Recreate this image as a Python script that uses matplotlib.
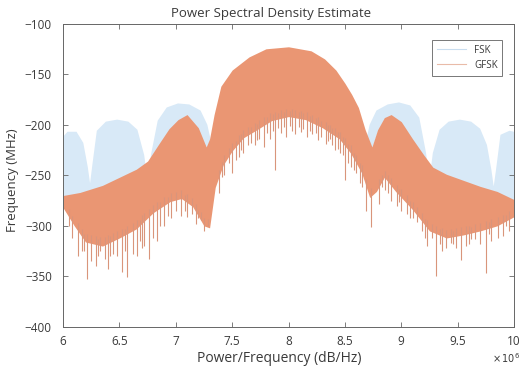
import numpy as np
import matplotlib.pyplot as plt

plt.rcParams['font.family'] = ['Open Sans', 'DejaVu Sans']

# frequency axis in units of 1e6
# GFSK upper edge of the dense trace
gfsk_x = [6.00, 6.15, 6.35, 6.50, 6.65, 6.75, 6.85, 6.94, 7.02, 7.10, 7.20, 7.27,
          7.30, 7.34, 7.40, 7.50, 7.65, 7.80, 8.00, 8.20, 8.32, 8.42, 8.50, 8.56,
          8.62, 8.68, 8.74, 8.79, 8.85, 8.91, 9.00, 9.10, 9.20, 9.28, 9.40, 9.55,
          9.70, 9.85, 10.00]
gfsk_top = [-270, -267, -260, -252, -244, -236, -219, -204, -195, -190, -203, -222,
            -214, -190, -162, -146, -133, -125, -123, -127, -135, -146, -159, -170,
            -183, -205, -222, -205, -193, -190, -197, -214, -230, -242, -249, -255,
            -261, -266, -274]
# GFSK lower edge of the dense body
gfsk_bx = [6.00, 6.10, 6.20, 6.35, 6.50, 6.65, 6.80, 6.95, 7.05, 7.15, 7.25, 7.30,
           7.35, 7.42, 7.50, 7.60, 7.72, 7.85, 8.00, 8.15, 8.30, 8.45, 8.55, 8.65,
           8.72, 8.78, 8.85, 8.95, 9.10, 9.25, 9.40, 9.55, 9.70, 9.85, 10.00]
gfsk_bot = [-282, -300, -316, -320, -312, -303, -287, -276, -273, -281, -300, -302,
            -262, -240, -226, -213, -205, -196, -192, -195, -203, -214, -228, -248,
            -272, -266, -252, -266, -284, -305, -312, -309, -305, -300, -291]
# long downward spikes (position, tip level)
spike_x = [6.05, 6.13, 6.17, 6.21, 6.25, 6.29, 6.33, 6.37, 6.40, 6.44, 6.48, 6.52,
           6.57, 6.62, 6.66, 6.70, 6.72, 6.76, 6.80, 6.83, 6.90, 6.96, 7.00, 7.05,
           7.10, 7.14, 7.18, 7.22, 7.25, 7.29, 7.38, 7.43, 7.47, 7.50, 7.56, 7.60,
           7.64, 7.70, 7.74, 7.78, 7.84, 7.88, 7.93, 7.98, 8.03, 8.06, 8.11, 8.16,
           8.21, 8.26, 8.33, 8.37, 8.41, 8.46, 8.50, 8.55, 8.60, 8.65, 8.69, 8.73,
           8.80, 8.86, 8.91, 8.96, 9.00, 9.05, 9.10, 9.14, 9.18, 9.23, 9.27, 9.31,
           9.36, 9.40, 9.44, 9.49, 9.53, 9.57, 9.60, 9.65, 9.70, 9.75, 9.80, 9.86,
           9.90, 9.96]
spike_y = [-300, -330, -325, -353, -335, -340, -325, -333, -343, -328, -330, -346,
           -351, -328, -330, -322, -320, -333, -312, -315, -300, -292, -285, -290,
           -291, -288, -298, -294, -305, -300, -268, -250, -238, -248, -232, -228,
           -220, -220, -214, -222, -214, -245, -208, -212, -206, -209, -207, -212,
           -209, -215, -219, -214, -225, -228, -255, -242, -248, -262, -285, -301,
           -278, -265, -275, -280, -285, -288, -292, -296, -305, -320, -312, -350,
           -325, -322, -317, -322, -334, -320, -318, -313, -318, -347, -315, -312,
           -310, -305]
# short comb spikes along the body bottom
comb_x = [6.08, 6.19, 6.31, 6.42, 6.55, 6.68, 6.86, 6.93, 7.08, 7.20, 7.41, 7.53,
          7.58, 7.67, 7.72, 7.81, 7.86, 7.91, 7.96, 8.01, 8.09, 8.13, 8.19, 8.24,
          8.29, 8.35, 8.39, 8.44, 8.48, 8.53, 8.58, 8.63, 8.83, 8.88, 8.98, 9.08,
          9.21, 9.34, 9.46, 9.62, 9.78, 9.93]
comb_y = [-312, -325, -330, -330, -325, -315, -300, -290, -285, -292, -252, -235,
          -225, -218, -215, -208, -206, -203, -202, -201, -202, -204, -206, -208,
          -212, -216, -220, -224, -230, -238, -245, -258, -262, -268, -276, -292,
          -312, -318, -318, -313, -308, -300]
# FSK envelope (sidelobes visible behind GFSK)
fsk_x = [6.00, 6.04, 6.12, 6.18, 6.22, 6.24, 6.26, 6.30, 6.38, 6.48, 6.58, 6.66,
         6.72, 6.75, 6.78, 6.84, 6.92, 7.02, 7.12, 7.22, 7.28, 7.34, 8.66, 8.72,
         8.78, 8.88, 8.98, 9.08, 9.16, 9.22, 9.25, 9.28, 9.34, 9.42, 9.52, 9.62,
         9.70, 9.76, 9.80, 9.82, 9.84, 9.88, 9.96, 10.00]
fsk_top = [-212, -207, -207, -218, -242, -258, -240, -206, -197, -195, -197, -205,
           -230, -255, -230, -196, -183, -179, -180, -186, -200, -230, -230, -200,
           -186, -180, -178, -181, -193, -228, -255, -228, -205, -197, -195, -197,
           -204, -220, -245, -261, -245, -210, -206, -207]

orange = '#ea9673'
spike_c = '#d9957b'
blue = '#d8e9f7'
txt = '#3a3a3a'

fig = plt.figure(figsize=(5.22, 3.68), dpi=100)
ax = fig.add_axes([63 / 522, 0.1114, 451 / 522, 0.8247])

# FSK only shows where it rises above the GFSK trace
xs = np.union1d(fsk_x, gfsk_x)
f_hi = np.interp(xs, fsk_x, fsk_top)
g_hi = np.interp(xs, gfsk_x, gfsk_top)
ax.fill_between(xs, g_hi - 3, f_hi, where=f_hi > g_hi, interpolate=True,
                color=blue, lw=0, zorder=1)
ax.plot([], [], color='#c9ddef', lw=0.8, label='FSK')

xb = np.union1d(gfsk_x, gfsk_bx)
ax.fill_between(xb, np.interp(xb, gfsk_bx, gfsk_bot), np.interp(xb, gfsk_x, gfsk_top),
                color=orange, lw=0, zorder=2)
spike_base = np.interp(spike_x, gfsk_bx, gfsk_bot) + 8
ax.vlines(spike_x, spike_y, spike_base, color=spike_c, lw=0.8, zorder=3)
comb_base = np.interp(comb_x, gfsk_bx, gfsk_bot) + 6
ax.vlines(comb_x, comb_y, comb_base, color=spike_c, lw=0.8, zorder=3)
ax.plot([], [], color='#e9bba8', lw=0.8, label='GFSK')

ax.set_xlim(6, 10)
ax.set_ylim(-400, -100)
ax.set_xticks([6, 6.5, 7, 7.5, 8, 8.5, 9, 9.5, 10])
ax.set_xticklabels(['6', '6.5', '7', '7.5', '8', '8.5', '9', '9.5', '10'])
ax.set_yticks([-400, -350, -300, -250, -200, -150, -100])
ax.tick_params(direction='in', length=3.5, width=0.6, colors='#666666',
               labelcolor=txt, labelsize=8.5, top=True, right=True)
ax.tick_params(axis='y', pad=8)
ax.tick_params(axis='x', pad=6)
for s in ax.spines.values():
    s.set_color('#666666')
    s.set_linewidth(0.7)

fig.text(271 / 522, 1 - 14 / 368, 'Power Spectral Density Estimate', fontsize=9.5,
         color=txt, ha='center', va='center')
fig.text(279 / 522, 1 - 358 / 368, 'Power/Frequency (dB/Hz)', fontsize=10,
         color=txt, ha='center', va='center')
fig.text(13 / 522, 1 - 180 / 368, 'Frequency (MHz)', fontsize=9.5, color=txt,
         ha='center', va='center', rotation=90)
fig.text(0.996, 1 - 359 / 368, r'$\times\,10^{6}$', fontsize=7, color=txt,
         ha='right', va='center')

leg = ax.legend(loc='upper right', fontsize=7, frameon=True, fancybox=False,
                handlelength=3.0, borderpad=0.5, labelspacing=0.4,
                bbox_to_anchor=(0.985, 0.962))
leg.get_frame().set_edgecolor('#555555')
leg.get_frame().set_linewidth(0.7)
for t in leg.get_texts():
    t.set_color(txt)

fig.savefig('out.png', dpi=100)
